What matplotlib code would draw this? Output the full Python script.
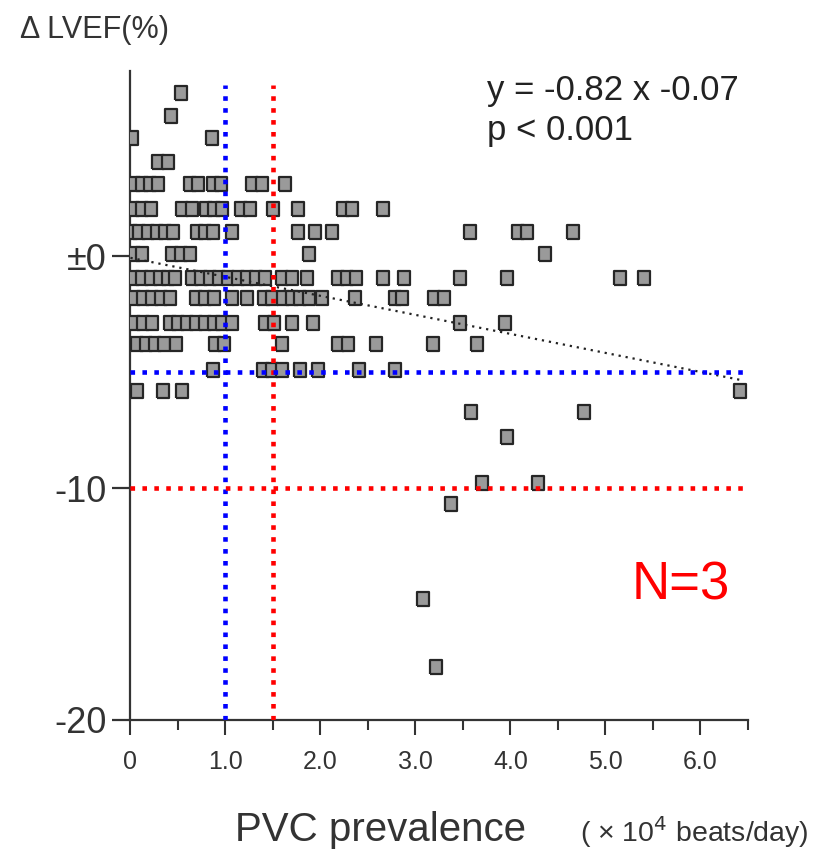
import matplotlib.pyplot as plt
import numpy as np

plt.rcParams['font.family'] = ['Liberation Sans', 'DejaVu Sans']

# delta LVEF levels (rows of points) and PVC prevalence (x 10^4 beats/day) on each row
row_levels = [7.05, 6.05, 5.1, 4.05, 3.1, 2.05, 1.05, 0.1, -0.95, -1.8, -2.9, -3.8, -4.9, -5.8]
row_x = [
    [0.53],
    [0.43],
    [0.02, 0.86],
    [0.29, 0.39],
    [0.04, 0.12, 0.21, 0.29, 0.63, 0.71, 0.87, 0.95, 1.28, 1.38, 1.63],
    [0.03, 0.12, 0.22, 0.54, 0.65, 0.79, 0.88, 0.96, 1.16, 1.26, 1.50, 1.76, 2.24, 2.33, 2.66],
    [0.01, 0.09, 0.18, 0.28, 0.36, 0.45, 0.70, 0.78, 0.87, 1.07, 1.76, 1.94, 2.12, 3.57, 4.08,
     4.17, 4.66],
    [0.04, 0.12, 0.44, 0.53, 0.63, 1.88, 4.36],
    [0.03, 0.12, 0.22, 0.31, 0.39, 0.47, 0.65, 0.74, 0.84, 0.93, 1.03, 1.13, 1.23, 1.32, 1.42,
     1.59, 1.70, 1.86, 2.18, 2.28, 2.37, 2.66, 2.88, 3.47, 3.96, 5.15, 5.41],
    [0.04, 0.13, 0.23, 0.32, 0.42, 0.69, 0.78, 0.88, 1.07, 1.23, 1.41, 1.49, 1.61, 1.70, 1.78,
     1.88, 2.02, 2.36, 2.78, 2.86, 3.20, 3.30],
    [0.04, 0.13, 0.23, 0.42, 0.50, 0.59, 0.69, 0.78, 0.88, 0.96, 1.07, 1.42, 1.51, 1.70, 1.92,
     3.47, 3.94],
    [0.07, 0.16, 0.26, 0.35, 0.48, 0.89, 0.98, 1.59, 2.18, 2.29, 2.59, 3.18, 3.65],
    [0.87, 1.39, 1.49, 1.59, 1.78, 1.97, 2.41, 2.78],
    [0.07, 0.34, 0.54],
]

# scattered points below the main cloud
low_x = [6.42, 3.59, 4.77, 3.96, 3.70, 4.29, 3.37, 3.08, 3.22]
low_y = [-5.8, -6.7, -6.7, -7.8, -9.8, -9.8, -10.7, -14.8, -17.7]

slope = -0.82
intercept = -0.07

blue_x = 1.0
red_x = 1.5
blue_y = -5
red_y = -10

x_all = np.concatenate([np.array(xs) for xs in row_x] + [np.array(low_x)])
y_all = np.concatenate([np.full(len(xs), lv) for xs, lv in zip(row_x, row_levels)]
                       + [np.array(low_y)])

fig = plt.figure(figsize=(8.31, 8.52), dpi=100)
ax = fig.add_axes([0.157, 0.155, 0.743, 0.762])

rect = [(-0.85, -1), (0.85, -1), (0.85, 1), (-0.85, 1), (-0.85, -1)]
ax.plot(x_all, y_all, ls='none', marker=rect, ms=9.5, mfc='#9a9a9a', mec='#262626',
        mew=1.6, zorder=3)

# regression line
xr = np.array([0.0, 6.45])
ax.plot(xr, slope * xr + intercept, color='#222222', lw=1.6, ls=(0, (1, 2.2)), zorder=4)

# reference lines
dots = (0, (1, 1.6))
ax.plot([blue_x, blue_x], [-20, 7.4], color='#0000ff', lw=3.3, ls=dots, zorder=5)
ax.plot([red_x, red_x], [-20, 7.4], color='#ff0000', lw=3.3, ls=dots, zorder=5)
ax.plot([0, 6.5], [blue_y, blue_y], color='#0000ff', lw=3.3, ls=dots, zorder=5)
ax.plot([0, 6.5], [red_y, red_y], color='#ff0000', lw=3.3, ls=dots, zorder=5)

ax.set_xlim(0, 6.5)
ax.set_ylim(-20, 8)
for s in ['top', 'right']:
    ax.spines[s].set_visible(False)
for s in ['left', 'bottom']:
    ax.spines[s].set_color('#333333')
    ax.spines[s].set_linewidth(1.6)
ax.spines['bottom'].set_bounds(0, 6.5)

ax.set_xticks([0, 1, 2, 3, 4, 5, 6])
ax.set_xticklabels(['0', '1.0', '2.0', '3.0', '4.0', '5.0', '6.0'], fontsize=18, color='#333333')
ax.set_xticks(np.arange(0.5, 6.6, 1.0), minor=True)
ax.tick_params(axis='x', which='major', length=11, width=1.5, pad=11, color='#333333')
ax.tick_params(axis='x', which='minor', length=7, width=1.5, color='#333333')

ax.set_yticks([-20, -10, 0])
ax.set_yticklabels(['-20', '-10', '±0'], fontsize=26, color='#333333')
ax.tick_params(axis='y', length=13, width=1.6, pad=4, color='#333333')

fig.text(0.024, 0.965, 'Δ LVEF(%)', fontsize=22, color='#333333', va='center', ha='left')
fig.text(0.586, 0.894, 'y = -0.82 x -0.07', fontsize=25, color='#222222', va='center')
fig.text(0.586, 0.847, 'p < 0.001', fontsize=25, color='#222222', va='center')
fig.text(0.760, 0.313, 'N=3', fontsize=38, color='#ff0000', va='center')
fig.text(0.283, 0.026, 'PVC prevalence', fontsize=29, color='#333333', va='center')
fig.text(0.698, 0.024, '( × 10$^{4}$ beats/day)', fontsize=20.5, color='#333333', va='center')

fig.savefig('out.png', dpi=100)
